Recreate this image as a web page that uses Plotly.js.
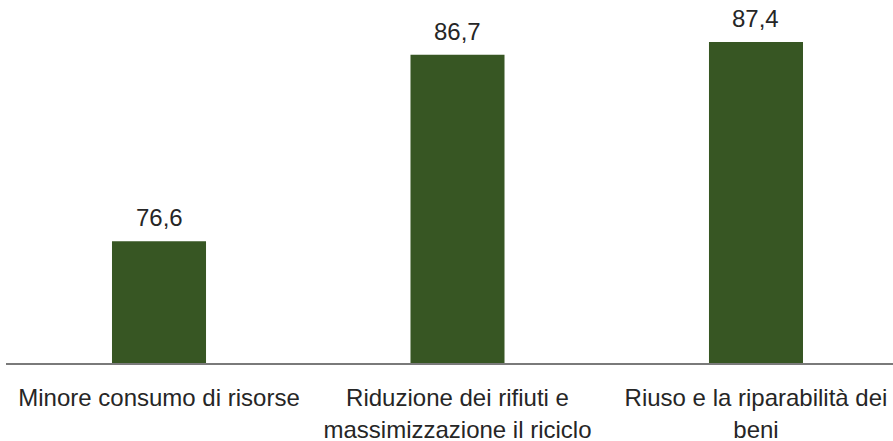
<!DOCTYPE html>
<html><head><meta charset="utf-8">
<script src="https://cdn.plot.ly/plotly-3.0.1.min.js"></script>
<style>body{margin:0;background:#fff}#c{width:893px;height:441px}</style>
</head><body><div id="c"></div>
<script>
const categories = ["Minore consumo di risorse", "Riduzione dei rifiuti e<br>massimizzazione il riciclo", "Riuso e la riparabilità dei<br>beni"];
const values = [76.6, 86.7, 87.4];
const barColor = "#375623";
const fontFam = "'Liberation Sans', Arial, sans-serif";

const trace = {
  type: "bar", x: [0, 1, 2], y: values,
  marker: {color: barColor}, hoverinfo: "none"
};
const annotations = values.map((v, i) => ({
  x: i, y: v, xref: "x", yref: "y", yanchor: "bottom", yshift: 8,
  text: v.toFixed(1).replace(".", ","), showarrow: false,
  font: {family: fontFam, size: 24, color: "#262626"}
}));
const layout = {
  width: 893, height: 441,
  margin: {l: 6, r: 0, t: 0, b: 78},
  paper_bgcolor: "#fff", plot_bgcolor: "#fff",
  bargap: 0.685, showlegend: false,
  xaxis: {
    range: [-0.5126, 2.459], tickmode: "array", tickvals: [0, 1, 2], ticktext: categories,
    showgrid: false, zeroline: false, showline: true, linecolor: "#7a7a7a", linewidth: 1.5,
    ticks: "", ticklabelstandoff: 13, tickfont: {family: fontFam, size: 24, color: "#262626"}, fixedrange: true
  },
  yaxis: {range: [70, 89.67], visible: false, fixedrange: true},
  annotations: annotations
};
Plotly.newPlot("c", [trace], layout, {staticPlot: true, displayModeBar: false});
</script></body></html>
